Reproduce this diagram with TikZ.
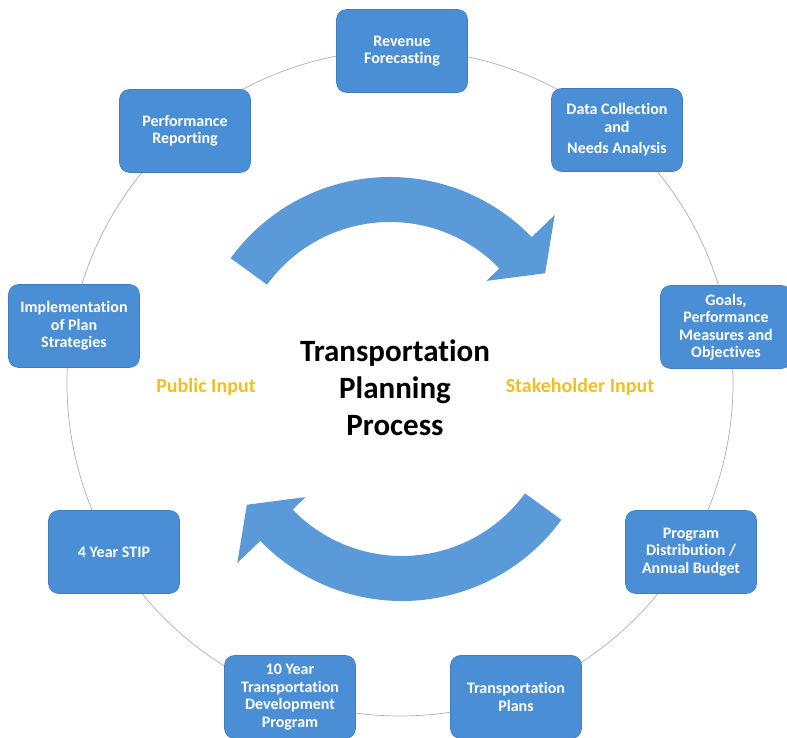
\documentclass[tikz,border=0pt]{standalone}
\usepackage{fontspec}
\setmainfont{Carlito}[Ligatures=NoCommon]
\usetikzlibrary{positioning}
\definecolor{boxblue}{HTML}{4A8FD6}
\definecolor{boxedge}{HTML}{3F7CC0}
\definecolor{swoosh}{HTML}{5A9AD8}
\definecolor{ring}{HTML}{A9B0B8}
\definecolor{inputgold}{HTML}{F0C020}

\tikzset{
 stagebox/.style={fill=boxblue,draw=boxedge,line width=0.6pt,rounded corners=10pt,minimum width=131pt,minimum height=83pt,
  inner sep=3pt,align=center,text=white,font=\bfseries\fontsize{16}{17.5}\selectfont},
 inputlabel/.style={text=inputgold,font=\bfseries\fontsize{20}{22}\selectfont},
}

\begin{document}
\begin{tikzpicture}[x=1pt,y=1pt]
\useasboundingbox (0,0) rectangle (787,738);
% the ring that links the stages
\coordinate (hub) at (400,355);
\draw[ring,line width=0.7pt] (hub) circle (333);
% two curved swoosh arrows, clockwise
\fill[swoosh,shift={(390,364)}] (144:197) arc[start angle=144,end angle=44,radius=197] -- (44:229) -- (33:185) -- (44:134) -- (44:152) arc[start angle=44,end angle=144,radius=152] -- cycle;
\fill[swoosh,shift={(402,334)}] (-36:197) arc[start angle=-36,end angle=-136,radius=197] -- (-136:229) -- (-147:185) -- (-136:134) -- (-136:152) arc[start angle=-136,end angle=-36,radius=152] -- cycle;
% stages round the ring
\foreach \nm/\px/\py/\txt in {revenue/402/687/{Revenue\\Forecasting},datacoll/617/608/{Data Collection\\and\\[4pt]Needs Analysis},
  goals/726/411/{Goals,\\Performance\\Measures and\\Objectives},progdist/691/186/{Program\\Distribution /\\Annual Budget},
  transplans/516/41/{Transportation\\Plans},tenyear/290/41/{10 Year\\Transportation\\Development\\Program},
  stip/114/186/{4 Year STIP},implement/74/412/{Implementation\\of Plan\\Strategies},perfrep/185/607/{Performance\\Reporting}}
 \node[stagebox] (\nm) at (\px,\py) {\txt};
% centre texts
\node[font=\bfseries\fontsize{31}{37}\selectfont,align=center] (title) at (395,350) {Transportation\\Planning\\Process};
\node[inputlabel] (public) at (206,351) {Public Input};
\node[inputlabel] (stakeholder) at (580,351) {Stakeholder Input};
\end{tikzpicture}
\end{document}
